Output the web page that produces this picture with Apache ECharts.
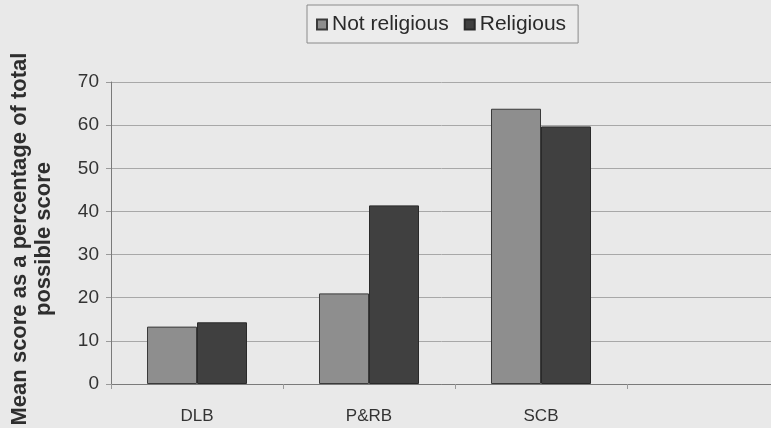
<!DOCTYPE html>
<html>
<head>
<meta charset="utf-8">
<script src="https://cdn.jsdelivr.net/npm/echarts@6/dist/echarts.min.js"></script>
<style>
  html, body { margin: 0; padding: 0; background: #e9e9e9; }
  #chart { width: 771px; height: 428px; }
</style>
</head>
<body>
<div id="chart"></div>
<script>
// categories (last one is empty: the original plot runs past the right edge)
const categories = ['DLB', 'P&RB', 'SCB', ''];
const notReligious = [13.3, 21.0, 63.8];
const religious = [14.3, 41.4, 59.7];
const yTicks = { min: 0, max: 70, interval: 10 };

const font = 'Liberation Sans, Arial, sans-serif';

const chart = echarts.init(document.getElementById('chart'));
chart.setOption({
  backgroundColor: '#e9e9e9',
  animation: false,
  textStyle: { fontFamily: font },
  legend: {
    top: 5,
    left: 307,
    padding: [9, 12, 8, 9],
    itemWidth: 10,
    itemHeight: 10,
    itemGap: 15,
    borderColor: '#8a8a8a',
    borderWidth: 1,
    backgroundColor: '#ececec',
    textStyle: { fontSize: 21, color: '#2a2a2a', fontFamily: font },
    data: [
      { name: 'Not religious', icon: 'rect' },
      { name: 'Religious', icon: 'rect' },
    ],
  },
  grid: {
    left: 111,
    top: 82,
    bottom: 44,
    width: 688,
    outerBoundsMode: 'none',
  },
  xAxis: {
    type: 'category',
    data: categories,
    axisLine: { lineStyle: { color: '#7a7a7a', width: 1 } },
    axisTick: { show: true, length: 5, lineStyle: { color: '#9a9a9a' } },
    axisLabel: { color: '#333', fontSize: 17, margin: 24 },
  },
  yAxis: {
    type: 'value',
    min: yTicks.min,
    max: yTicks.max,
    interval: yTicks.interval,
    name: 'Mean score as a percentage of total\npossible score',
    nameLocation: 'middle',
    nameRotate: 90,
    nameGap: 55,
    nameTextStyle: {
      fontSize: 22,
      fontWeight: 'bold',
      color: '#2e2e2e',
      lineHeight: 24,
      padding: [0, 12, 0, 0], // nudges the rotated title a little lower
    },
    axisLine: { show: true, lineStyle: { color: '#7a7a7a', width: 1 } },
    axisTick: { show: true, length: 5, lineStyle: { color: '#9a9a9a' } },
    axisLabel: { color: '#333', fontSize: 19, margin: 12 },
    splitLine: { show: true, lineStyle: { color: '#a8a8a8', width: 1 } },
  },
  series: [
    {
      name: 'Not religious',
      type: 'bar',
      data: notReligious,
      barWidth: 50,
      barGap: '0%',
      itemStyle: { color: '#8e8e8e', borderColor: '#3a3a3a', borderWidth: 1 },
    },
    {
      name: 'Religious',
      type: 'bar',
      data: religious,
      barWidth: 50,
      barGap: '0%',
      itemStyle: { color: '#404040', borderColor: '#2a2a2a', borderWidth: 1 },
    },
  ],
});
</script>
</body>
</html>
